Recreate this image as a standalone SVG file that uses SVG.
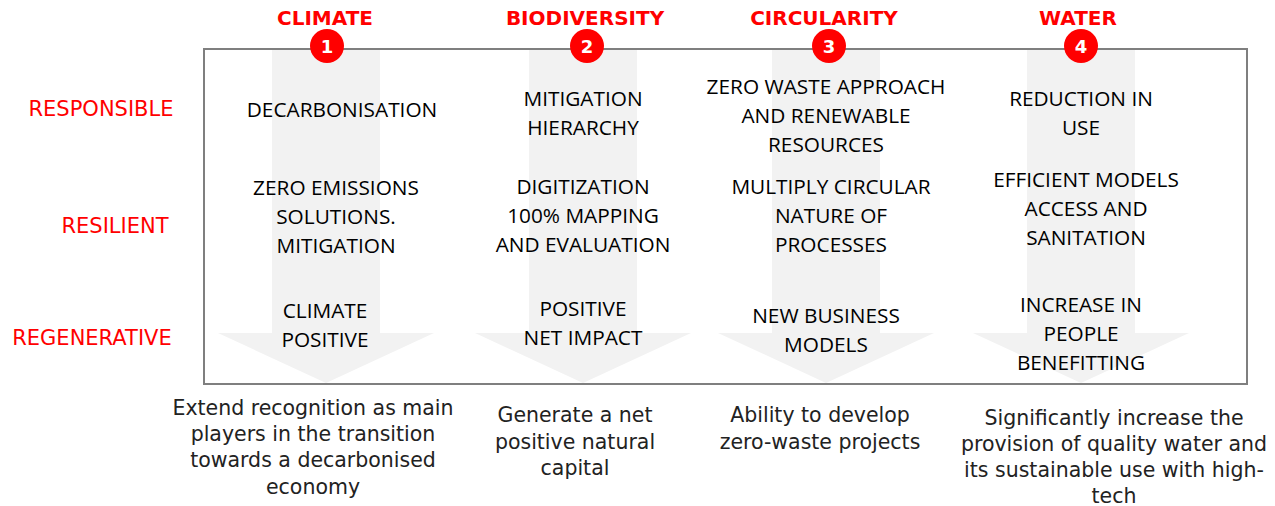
<svg xmlns="http://www.w3.org/2000/svg" width="1275" height="506" viewBox="0 0 1275 506">
<style>
.arrow{fill:#f2f2f2}
.frame{fill:none;stroke:#7f7f7f;stroke-width:2}
.hdr{font-family:"DejaVu Sans",sans-serif;font-weight:bold;font-size:20px;fill:#ff0000;text-anchor:middle}
.badge{fill:#ff0000}
.num{font-family:"DejaVu Sans",sans-serif;font-weight:bold;font-size:18px;fill:#ffffff;text-anchor:middle}
.row{font-family:"DejaVu Sans",sans-serif;font-size:21px;fill:#ff0000;text-anchor:middle}
.cell{font-family:"Open Sans",sans-serif;font-size:20.8px;fill:#000000;text-anchor:middle}
.foot{font-family:"DejaVu Sans",sans-serif;font-size:20.5px;fill:#222222;text-anchor:middle}
</style>
<g id="arrows">
<path class="arrow" d="M272,49 H380 V333 H434 L326,383 L218,333 H272 Z"/>
<path class="arrow" d="M529,49 H637 V333 H691 L583,383 L475,333 H529 Z"/>
<path class="arrow" d="M772,49 H880 V333 H934 L826,383 L718,333 H772 Z"/>
<path class="arrow" d="M1027,49 H1135 V333 H1189 L1081,383 L973,333 H1027 Z"/>
</g>
<rect id="frame" class="frame" x="204" y="49" width="1043" height="335"/>
<g id="rows">
<text class="row" x="101" y="116">RESPONSIBLE</text>
<text class="row" x="115" y="233">RESILIENT</text>
<text class="row" x="92" y="345">REGENERATIVE</text>
</g>
<g id="col1">
<text class="hdr" x="325" y="25">CLIMATE</text>
<circle class="badge" cx="327" cy="46" r="17"/>
<text class="num" x="327" y="53">1</text>
<text class="cell" x="342" y="117">DECARBONISATION</text>
<text class="cell" x="336" y="195">ZERO EMISSIONS</text>
<text class="cell" x="336" y="224">SOLUTIONS.</text>
<text class="cell" x="336" y="253">MITIGATION</text>
<text class="cell" x="325" y="318">CLIMATE</text>
<text class="cell" x="325" y="347">POSITIVE</text>
<text class="foot" x="313" y="415">Extend recognition as main</text>
<text class="foot" x="313" y="441">players in the transition</text>
<text class="foot" x="313" y="467">towards a decarbonised</text>
<text class="foot" x="313" y="494">economy</text>
</g>
<g id="col2">
<text class="hdr" x="585" y="25">BIODIVERSITY</text>
<circle class="badge" cx="587" cy="46" r="17"/>
<text class="num" x="587" y="53">2</text>
<text class="cell" x="583" y="106">MITIGATION</text>
<text class="cell" x="583" y="135">HIERARCHY</text>
<text class="cell" x="583" y="194">DIGITIZATION</text>
<text class="cell" x="583" y="223">100% MAPPING</text>
<text class="cell" x="583" y="252">AND EVALUATION</text>
<text class="cell" x="583" y="316">POSITIVE</text>
<text class="cell" x="583" y="345">NET IMPACT</text>
<text class="foot" x="575" y="422">Generate a net</text>
<text class="foot" x="575" y="449">positive natural</text>
<text class="foot" x="575" y="475">capital</text>
</g>
<g id="col3">
<text class="hdr" x="824" y="25">CIRCULARITY</text>
<circle class="badge" cx="829" cy="46" r="17"/>
<text class="num" x="829" y="53">3</text>
<text class="cell" x="826" y="94">ZERO WASTE APPROACH</text>
<text class="cell" x="826" y="123">AND RENEWABLE</text>
<text class="cell" x="826" y="152">RESOURCES</text>
<text class="cell" x="831" y="194">MULTIPLY CIRCULAR</text>
<text class="cell" x="831" y="223">NATURE OF</text>
<text class="cell" x="831" y="252">PROCESSES</text>
<text class="cell" x="826" y="323">NEW BUSINESS</text>
<text class="cell" x="826" y="352">MODELS</text>
<text class="foot" x="820" y="422">Ability to develop</text>
<text class="foot" x="820" y="449">zero-waste projects</text>
</g>
<g id="col4">
<text class="hdr" x="1078" y="25">WATER</text>
<circle class="badge" cx="1081" cy="46" r="17"/>
<text class="num" x="1081" y="53">4</text>
<text class="cell" x="1081" y="106">REDUCTION IN</text>
<text class="cell" x="1081" y="135">USE</text>
<text class="cell" x="1086" y="187">EFFICIENT MODELS</text>
<text class="cell" x="1086" y="216">ACCESS AND</text>
<text class="cell" x="1086" y="245">SANITATION</text>
<text class="cell" x="1081" y="312">INCREASE IN</text>
<text class="cell" x="1081" y="341">PEOPLE</text>
<text class="cell" x="1081" y="370">BENEFITTING</text>
<text class="foot" x="1114" y="425">Significantly increase the</text>
<text class="foot" x="1114" y="451">provision of quality water and</text>
<text class="foot" x="1114" y="477">its sustainable use with high-</text>
<text class="foot" x="1114" y="503">tech</text>
</g>
</svg>
